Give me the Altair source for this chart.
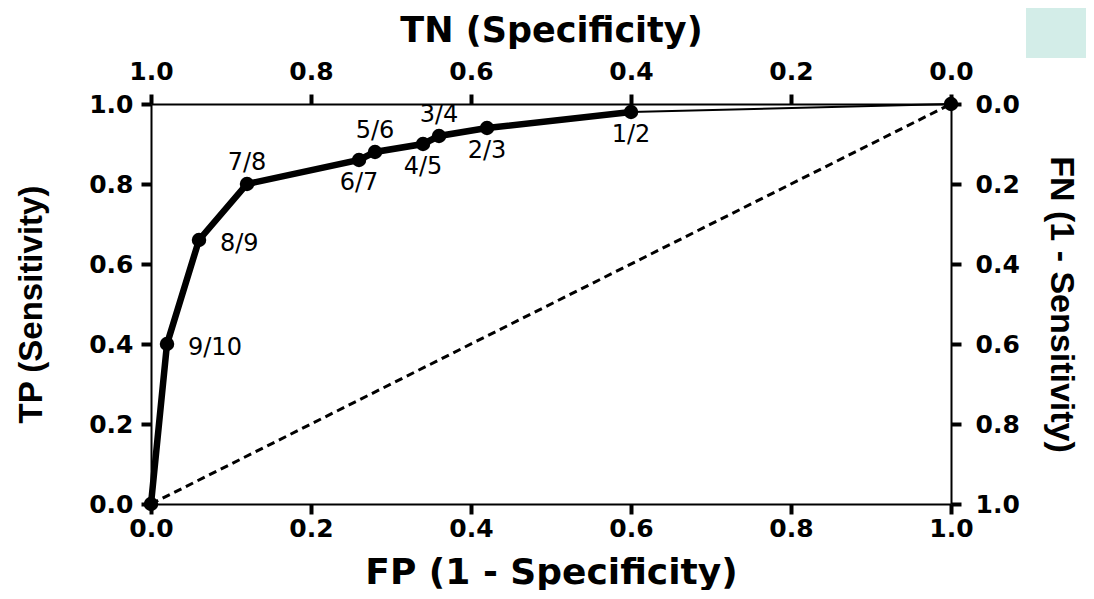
import altair as alt
import pandas as pd

# ROC data
fp = [0.0, 0.02, 0.06, 0.12, 0.26, 0.28, 0.34, 0.36, 0.42, 0.60, 1.0]
tp = [0.0, 0.40, 0.66, 0.80, 0.86, 0.88, 0.90, 0.92, 0.94, 0.98, 1.0]
cutoffs = ["", "9/10", "8/9", "7/8", "6/7", "5/6", "4/5", "3/4", "2/3", "1/2", ""]

labels_right = ["9/10", "8/9"]
labels_above = ["7/8", "5/6", "3/4"]
labels_below = ["6/7", "4/5", "2/3", "1/2"]

tick_values = [0.0, 0.2, 0.4, 0.6, 0.8, 1.0]
diag_x = [0.0, 1.0]
diag_y = [0.0, 1.0]

df = pd.DataFrame({"fp": fp, "tp": tp, "label": cutoffs, "idx": list(range(len(fp)))})
diag_df = pd.DataFrame({"fp": diag_x, "tp": diag_y})

axis_common = dict(
    values=tick_values, format=".1f", grid=False,
    domainColor="black", domainWidth=2,
    tickColor="black", tickWidth=4, tickSize=10,
    labelFont="DejaVu Sans", labelFontWeight="bold", labelFontSize=25,
    labelColor="black", labelFlush=False, labelOverlap=False,
    titleColor="black", titleFontWeight="bold",
)

X = alt.X("fp:Q", scale=alt.Scale(domain=[0, 1]),
          axis=alt.Axis(orient="bottom", title="FP (1 - Specificity)",
                        labelPadding=2, titleFont="DejaVu Sans", titleFontSize=36,
                        titlePadding=14, **axis_common))
Y = alt.Y("tp:Q", scale=alt.Scale(domain=[0, 1]),
          axis=alt.Axis(orient="left", title="TP (Sensitivity)",
                        labelPadding=8, titleFont="Liberation Sans", titleFontSize=33,
                        titlePadding=40, **axis_common))

base = alt.Chart(df)

line_main = base.transform_filter(alt.datum.fp <= 0.6).mark_line(
    color="black", strokeWidth=6.5).encode(x=X, y=Y, order="idx:Q")
line_tail = base.transform_filter(alt.datum.fp >= 0.6).mark_line(
    color="black", strokeWidth=2).encode(x=X, y=Y, order="idx:Q")
diag = alt.Chart(diag_df).mark_line(
    color="black", strokeWidth=3, strokeDash=[8, 5]).encode(x=X, y=Y)
points = base.mark_circle(color="black", opacity=1, size=210).encode(x=X, y=Y)

txt = dict(font="DejaVu Sans", fontSize=24, color="black")
t_right = base.transform_filter(alt.FieldOneOfPredicate(field="label", oneOf=labels_right)).mark_text(
    align="left", baseline="middle", dx=21, dy=4, **txt).encode(x=X, y=Y, text="label:N")
t_above = base.transform_filter(alt.FieldOneOfPredicate(field="label", oneOf=labels_above)).mark_text(
    align="center", baseline="middle", dy=-21, **txt).encode(x=X, y=Y, text="label:N")
t_below = base.transform_filter(alt.FieldOneOfPredicate(field="label", oneOf=labels_below)).mark_text(
    align="center", baseline="middle", dy=23, **txt).encode(x=X, y=Y, text="label:N")

deco = alt.Chart(pd.DataFrame({"a": [0]})).mark_rect(color="#d3ede8").encode(
    x=alt.value(875), x2=alt.value(940), y=alt.value(-96), y2=alt.value(-46))

primary = alt.layer(deco, diag, line_tail, line_main, points, t_right, t_above, t_below)

secondary = base.transform_calculate(tn="1 - datum.fp", fn="1 - datum.tp").mark_point(
    opacity=0).encode(
    x=alt.X("tn:Q", scale=alt.Scale(domain=[0, 1], reverse=True),
            axis=alt.Axis(orient="top", title="TN (Specificity)", labelPadding=10,
                          titleFont="DejaVu Sans", titleFontSize=35, titlePadding=11,
                          **axis_common)),
    y=alt.Y("fn:Q", scale=alt.Scale(domain=[0, 1], reverse=True),
            axis=alt.Axis(orient="right", title="FN (1 - Sensitivity)", labelPadding=14,
                          titleFont="Liberation Sans", titleFontSize=34, titlePadding=24,
                          titleAngle=90, **axis_common)),
)

chart = alt.layer(primary, secondary).resolve_scale(x="independent", y="independent").properties(
    width=800, height=400,
    padding={"left": 143, "top": 96, "right": 135, "bottom": 86},
    autosize=alt.AutoSizeParams(type="none"),
).configure_view(stroke=None).configure(background="white")

chart.save("out.html", embed_options={"renderer": "svg", "actions": False})
